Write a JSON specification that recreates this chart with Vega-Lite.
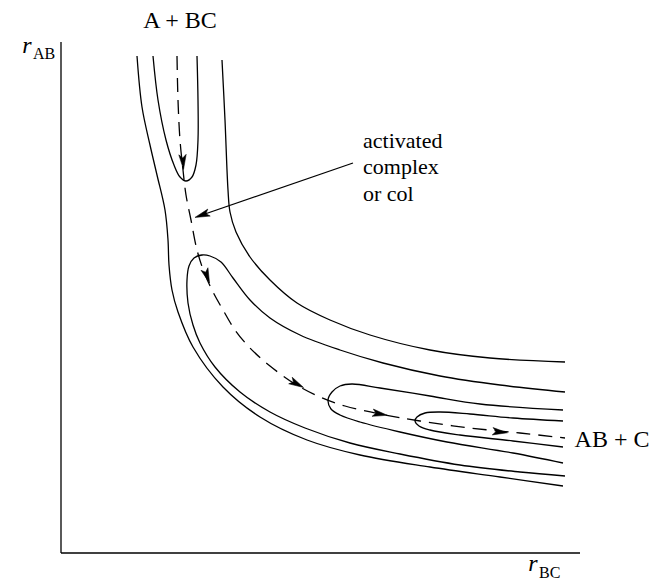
{
  "$schema": "https://vega.github.io/schema/vega-lite/v6.json",
  "width": 650,
  "height": 582,
  "autosize": {"type": "fit", "contains": "padding"},
  "padding": 0,
  "background": "white",
  "config": {"view": {"stroke": null}},
  "datasets": {
    "curves": [
      {"id": "axisV", "i": 0, "x": 61, "y": 42}, {"id": "axisV", "i": 1, "x": 61, "y": 553},
      {"id": "axisH", "i": 0, "x": 61, "y": 553}, {"id": "axisH", "i": 1, "x": 580, "y": 553},

      {"id": "C1", "i": 0, "x": 137, "y": 56}, {"id": "C1", "i": 1, "x": 142, "y": 107}, {"id": "C1", "i": 2, "x": 150, "y": 145},
      {"id": "C1", "i": 3, "x": 157, "y": 175}, {"id": "C1", "i": 4, "x": 165, "y": 210}, {"id": "C1", "i": 5, "x": 168, "y": 240},
      {"id": "C1", "i": 6, "x": 169, "y": 265}, {"id": "C1", "i": 7, "x": 172, "y": 290}, {"id": "C1", "i": 8, "x": 178, "y": 312},
      {"id": "C1", "i": 9, "x": 193, "y": 347}, {"id": "C1", "i": 10, "x": 223, "y": 387}, {"id": "C1", "i": 11, "x": 260, "y": 417},
      {"id": "C1", "i": 12, "x": 307, "y": 440}, {"id": "C1", "i": 13, "x": 360, "y": 455}, {"id": "C1", "i": 14, "x": 430, "y": 467},
      {"id": "C1", "i": 15, "x": 500, "y": 477}, {"id": "C1", "i": 16, "x": 563, "y": 486},

      {"id": "U", "i": 0, "x": 153, "y": 56}, {"id": "U", "i": 1, "x": 158, "y": 100}, {"id": "U", "i": 2, "x": 166, "y": 140},
      {"id": "U", "i": 3, "x": 174, "y": 165}, {"id": "U", "i": 4, "x": 180, "y": 177}, {"id": "U", "i": 5, "x": 186, "y": 181},
      {"id": "U", "i": 6, "x": 192, "y": 177}, {"id": "U", "i": 7, "x": 196, "y": 165}, {"id": "U", "i": 8, "x": 198, "y": 140},
      {"id": "U", "i": 9, "x": 198, "y": 100}, {"id": "U", "i": 10, "x": 197, "y": 56},

      {"id": "C6", "i": 0, "x": 222, "y": 60}, {"id": "C6", "i": 1, "x": 225, "y": 120}, {"id": "C6", "i": 2, "x": 228, "y": 190},
      {"id": "C6", "i": 3, "x": 230, "y": 212}, {"id": "C6", "i": 4, "x": 236, "y": 232}, {"id": "C6", "i": 5, "x": 250, "y": 257},
      {"id": "C6", "i": 6, "x": 270, "y": 280}, {"id": "C6", "i": 7, "x": 297, "y": 303}, {"id": "C6", "i": 8, "x": 330, "y": 320},
      {"id": "C6", "i": 9, "x": 370, "y": 335}, {"id": "C6", "i": 10, "x": 430, "y": 350}, {"id": "C6", "i": 11, "x": 490, "y": 358},
      {"id": "C6", "i": 12, "x": 565, "y": 362},

      {"id": "C5", "i": 0, "x": 565, "y": 392}, {"id": "C5", "i": 1, "x": 500, "y": 385}, {"id": "C5", "i": 2, "x": 440, "y": 376},
      {"id": "C5", "i": 3, "x": 383, "y": 363}, {"id": "C5", "i": 4, "x": 340, "y": 350}, {"id": "C5", "i": 5, "x": 300, "y": 335},
      {"id": "C5", "i": 6, "x": 270, "y": 318}, {"id": "C5", "i": 7, "x": 250, "y": 300}, {"id": "C5", "i": 8, "x": 233, "y": 278},
      {"id": "C5", "i": 9, "x": 221, "y": 262}, {"id": "C5", "i": 10, "x": 210, "y": 256}, {"id": "C5", "i": 11, "x": 202, "y": 255},
      {"id": "C5", "i": 12, "x": 194, "y": 258}, {"id": "C5", "i": 13, "x": 189, "y": 266}, {"id": "C5", "i": 14, "x": 187, "y": 280},
      {"id": "C5", "i": 15, "x": 188, "y": 303}, {"id": "C5", "i": 16, "x": 193, "y": 325}, {"id": "C5", "i": 17, "x": 200, "y": 343},
      {"id": "C5", "i": 18, "x": 215, "y": 367}, {"id": "C5", "i": 19, "x": 240, "y": 392}, {"id": "C5", "i": 20, "x": 270, "y": 412},
      {"id": "C5", "i": 21, "x": 305, "y": 428}, {"id": "C5", "i": 22, "x": 350, "y": 443}, {"id": "C5", "i": 23, "x": 400, "y": 454},
      {"id": "C5", "i": 24, "x": 460, "y": 465}, {"id": "C5", "i": 25, "x": 520, "y": 472}, {"id": "C5", "i": 26, "x": 565, "y": 476},

      {"id": "L2", "i": 0, "x": 563, "y": 410}, {"id": "L2", "i": 1, "x": 480, "y": 404}, {"id": "L2", "i": 2, "x": 430, "y": 396},
      {"id": "L2", "i": 3, "x": 380, "y": 388}, {"id": "L2", "i": 4, "x": 352, "y": 384}, {"id": "L2", "i": 5, "x": 340, "y": 386},
      {"id": "L2", "i": 6, "x": 332, "y": 392}, {"id": "L2", "i": 7, "x": 328, "y": 400}, {"id": "L2", "i": 8, "x": 331, "y": 409},
      {"id": "L2", "i": 9, "x": 340, "y": 415}, {"id": "L2", "i": 10, "x": 360, "y": 422}, {"id": "L2", "i": 11, "x": 400, "y": 432},
      {"id": "L2", "i": 12, "x": 447, "y": 442}, {"id": "L2", "i": 13, "x": 513, "y": 453}, {"id": "L2", "i": 14, "x": 563, "y": 463},

      {"id": "L3", "i": 0, "x": 563, "y": 421}, {"id": "L3", "i": 1, "x": 513, "y": 418}, {"id": "L3", "i": 2, "x": 470, "y": 414},
      {"id": "L3", "i": 3, "x": 440, "y": 412}, {"id": "L3", "i": 4, "x": 425, "y": 413}, {"id": "L3", "i": 5, "x": 417, "y": 417},
      {"id": "L3", "i": 6, "x": 415, "y": 421}, {"id": "L3", "i": 7, "x": 419, "y": 426}, {"id": "L3", "i": 8, "x": 430, "y": 430},
      {"id": "L3", "i": 9, "x": 460, "y": 435}, {"id": "L3", "i": 10, "x": 513, "y": 441}, {"id": "L3", "i": 11, "x": 563, "y": 447},

      {"id": "pointer", "i": 0, "x": 353, "y": 163}, {"id": "pointer", "i": 1, "x": 202, "y": 215}
    ],
    "path": [
      {"i": 0, "x": 177, "y": 56}, {"i": 1, "x": 178, "y": 100}, {"i": 2, "x": 180, "y": 140}, {"i": 3, "x": 183, "y": 170},
      {"i": 4, "x": 186, "y": 195}, {"i": 5, "x": 191, "y": 220}, {"i": 6, "x": 197, "y": 250}, {"i": 7, "x": 204, "y": 272},
      {"i": 8, "x": 212, "y": 290}, {"i": 9, "x": 223, "y": 310}, {"i": 10, "x": 235, "y": 330}, {"i": 11, "x": 250, "y": 348},
      {"i": 12, "x": 270, "y": 366}, {"i": 13, "x": 295, "y": 384}, {"i": 14, "x": 320, "y": 397}, {"i": 15, "x": 345, "y": 406},
      {"i": 16, "x": 385, "y": 415}, {"i": 17, "x": 420, "y": 421}, {"i": 18, "x": 470, "y": 428}, {"i": 19, "x": 520, "y": 433},
      {"i": 20, "x": 565, "y": 438}
    ],
    "arrows": [
      {"x": 183, "y": 162, "angle": 86},
      {"x": 202, "y": 215, "angle": 161},
      {"x": 207, "y": 276, "angle": 70},
      {"x": 297, "y": 384, "angle": 28},
      {"x": 380, "y": 414, "angle": 10},
      {"x": 500, "y": 432, "angle": 6}
    ],
    "labels": [
      {"t": "A + BC", "x": 180, "y": 21},
      {"t": "AB + C", "x": 612, "y": 440}
    ],
    "rs": [
      {"t": "r", "x": 27, "y": 46},
      {"t": "r", "x": 533, "y": 564}
    ],
    "subs": [
      {"t": "AB", "x": 33, "y": 54},
      {"t": "BC", "x": 539, "y": 573}
    ],
    "notes": [
      {"t": "activated", "x": 363, "y": 141},
      {"t": "complex", "x": 363, "y": 167},
      {"t": "or col", "x": 363, "y": 194}
    ]
  },
  "encoding": {
    "x": {"field": "x", "type": "quantitative", "scale": {"domain": [0, 650], "nice": false, "zero": false}, "axis": null},
    "y": {"field": "y", "type": "quantitative", "scale": {"domain": [0, 582], "nice": false, "zero": false, "reverse": true}, "axis": null}
  },
  "layer": [
    {
      "data": {"name": "curves"},
      "mark": {"type": "line", "interpolate": "catmull-rom", "stroke": "black", "strokeWidth": 1.3},
      "encoding": {"detail": {"field": "id"}, "order": {"field": "i", "type": "quantitative"}}
    },
    {
      "data": {"name": "path"},
      "mark": {"type": "line", "interpolate": "catmull-rom", "stroke": "black", "strokeWidth": 1.3, "strokeDash": [14, 8]},
      "encoding": {"order": {"field": "i", "type": "quantitative"}}
    },
    {
      "data": {"name": "arrows"},
      "mark": {"type": "point", "shape": "M1,0L-1,-0.5L-0.55,0L-1,0.5Z", "filled": true, "fill": "black", "stroke": "black", "strokeWidth": 0.5, "fillOpacity": 1, "size": 220},
      "encoding": {"angle": {"field": "angle", "type": "quantitative", "scale": null}}
    },
    {
      "data": {"name": "labels"},
      "mark": {"type": "text", "font": "Liberation Serif", "fontSize": 24, "color": "black", "align": "center", "baseline": "middle"},
      "encoding": {"text": {"field": "t"}}
    },
    {
      "data": {"name": "rs"},
      "mark": {"type": "text", "font": "Liberation Serif", "fontSize": 24, "fontStyle": "italic", "color": "black", "align": "center", "baseline": "middle"},
      "encoding": {"text": {"field": "t"}}
    },
    {
      "data": {"name": "subs"},
      "mark": {"type": "text", "font": "Liberation Serif", "fontSize": 16, "color": "black", "align": "left", "baseline": "middle"},
      "encoding": {"text": {"field": "t"}}
    },
    {
      "data": {"name": "notes"},
      "mark": {"type": "text", "font": "Liberation Serif", "fontSize": 22, "color": "black", "align": "left", "baseline": "middle"},
      "encoding": {"text": {"field": "t"}}
    }
  ]
}
